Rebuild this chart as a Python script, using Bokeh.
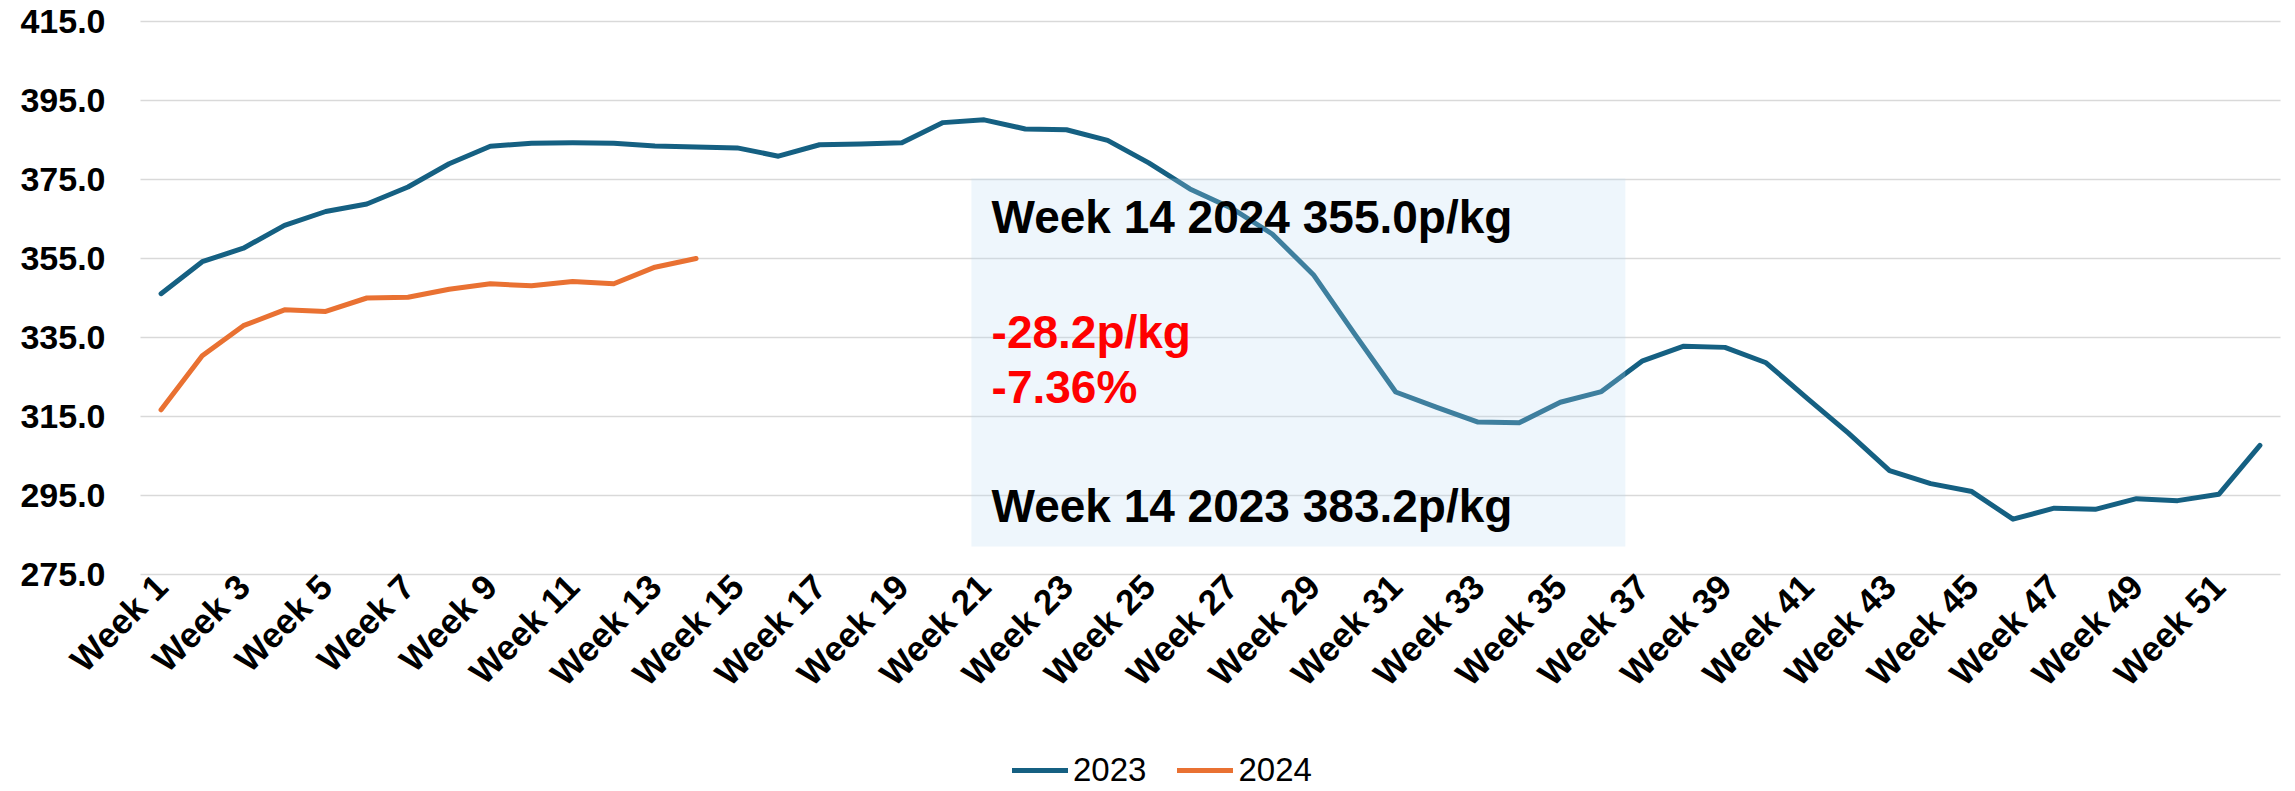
import math
from bokeh.plotting import figure
from bokeh.models import (FixedTicker, Legend, LegendItem, BoxAnnotation, Label,
                          PrintfTickFormatter, Range1d)
from bokeh.embed import file_html
from bokeh.resources import INLINE

# ---------------- data ----------------
weeks = list(range(1, 53))
values_2023 = [346.1, 354.2, 357.6, 363.4, 366.9, 368.8, 373.1, 379.0, 383.4, 384.2,
               384.3, 384.2, 383.5, 383.2, 383.0, 380.9, 383.8, 384.0, 384.3, 389.4,
               390.1, 387.8, 387.6, 384.9, 379.2, 372.6, 367.8, 361.2, 350.9, 335.9,
               321.2, 317.3, 313.6, 313.4, 318.6, 321.3, 329.1, 332.8, 332.5, 328.6,
               319.6, 310.8, 301.3, 298.0, 296.0, 289.0, 291.8, 291.5, 294.2, 293.7,
               295.3, 307.7]
weeks_2024 = weeks[:14]
values_2024 = [316.7, 330.4, 338.0, 342.0, 341.6, 345.0, 345.2, 347.2, 348.6, 348.1,
               349.2, 348.6, 352.8, 355.0]
series_names = ["2023", "2024"]
y_ticks = [275, 295, 315, 335, 355, 375, 395, 415]
x_tick_weeks = list(range(1, 52, 2))
x_tick_labels = {w: f"Week {w}" for w in x_tick_weeks}
note_2024 = "Week 14 2024 355.0p/kg"
note_diff = "-28.2p/kg"
note_pct = "-7.36%"
note_2023 = "Week 14 2023 383.2p/kg"

FONT = "Liberation Sans"
C2023 = "#156082"
C2024 = "#E97132"

# ---------------- geometry ----------------
W, H = 2294, 790
PLOT_L, PLOT_R, PLOT_T, PLOT_B = 140, 2280, 21, 574   # chart area in pixels
X_MIN, X_MAX = 0.5, 52.5
Y_MIN, Y_MAX = 275, 415
px_x = (PLOT_R - PLOT_L) / (X_MAX - X_MIN)
px_y = (PLOT_B - PLOT_T) / (Y_MAX - Y_MIN)
# the frame covers the whole canvas; axes are pinned at the chart edges
x_start = X_MIN - PLOT_L / px_x
x_end = X_MAX + (W - PLOT_R) / px_x
y_start = Y_MIN - (H - PLOT_B) / px_y
y_end = Y_MAX + PLOT_T / px_y

p = figure(width=W, height=H, output_backend="svg", toolbar_location=None,
           x_range=Range1d(x_start, x_end), y_range=Range1d(y_start, y_end),
           min_border_left=0, min_border_right=0, min_border_top=0,
           min_border_bottom=0)
p.outline_line_color = None
p.background_fill_color = "white"
p.border_fill_color = "white"

p.xgrid.visible = False
p.ygrid.ticker = FixedTicker(ticks=y_ticks)
p.ygrid.grid_line_color = "#D9D9D9"
p.ygrid.grid_line_width = 1.5
try:
    p.ygrid.cross_bounds = (X_MIN, X_MAX)
except Exception:
    pass

p.yaxis.fixed_location = X_MIN
p.yaxis.ticker = FixedTicker(ticks=y_ticks)
p.yaxis.formatter = PrintfTickFormatter(format="%.1f")
p.yaxis.axis_line_color = None
p.yaxis.major_tick_line_color = None
p.yaxis.minor_tick_line_color = None
p.yaxis.major_tick_out = 0
p.yaxis.major_tick_in = 0
p.yaxis.major_label_standoff = 35
p.yaxis.major_label_text_font = FONT
p.yaxis.major_label_text_font_style = "bold"
p.yaxis.major_label_text_font_size = "34px"
p.yaxis.major_label_text_color = "black"

p.xaxis.fixed_location = Y_MIN
p.xaxis.ticker = FixedTicker(ticks=x_tick_weeks)
p.xaxis.major_label_overrides = x_tick_labels
p.xaxis.major_label_orientation = math.pi / 4
p.xaxis.axis_line_color = None
p.xaxis.major_tick_line_color = None
p.xaxis.minor_tick_line_color = None
p.xaxis.major_tick_out = 0
p.xaxis.major_tick_in = 0
p.xaxis.major_label_standoff = 6
p.xaxis.major_label_text_font = FONT
p.xaxis.major_label_text_font_style = "bold"
p.xaxis.major_label_text_font_size = "35px"
p.xaxis.major_label_text_color = "black"

r1 = p.line(weeks, values_2023, line_color=C2023, line_width=5,
            line_join="round", line_cap="round")
r2 = p.line(weeks_2024, values_2024, line_color=C2024, line_width=5,
            line_join="round", line_cap="round")

box = BoxAnnotation(left=20.69, right=36.58, top=375.25, bottom=282.1,
                    fill_color="#BBDBF3", fill_alpha=0.25, line_color=None)
p.add_layout(box)

def note(x, y, text, color):
    return Label(x=x, y=y, text=text, text_font=FONT, text_font_style="bold",
                 text_font_size="46px", text_color=color,
                 text_baseline="alphabetic", text_align="left")

p.add_layout(note(21.18, 365.6, note_2024, "black"))
p.add_layout(note(21.18, 336.5, note_diff, "#FF0000"))
p.add_layout(note(21.18, 322.5, note_pct, "#FF0000"))
p.add_layout(note(21.18, 292.4, note_2023, "black"))

legend = Legend(items=[LegendItem(label=series_names[0], renderers=[r1]),
                       LegendItem(label=series_names[1], renderers=[r2])],
                orientation="horizontal", location=(1012, 1),
                glyph_width=56, glyph_height=30, label_height=30,
                label_standoff=5, spacing=31, padding=0, margin=0,
                border_line_color=None, background_fill_alpha=0,
                label_text_font=FONT, label_text_font_size="33px",
                label_text_color="black")
p.add_layout(legend, "center")

open("out.html", "w").write(file_html(p, INLINE))
